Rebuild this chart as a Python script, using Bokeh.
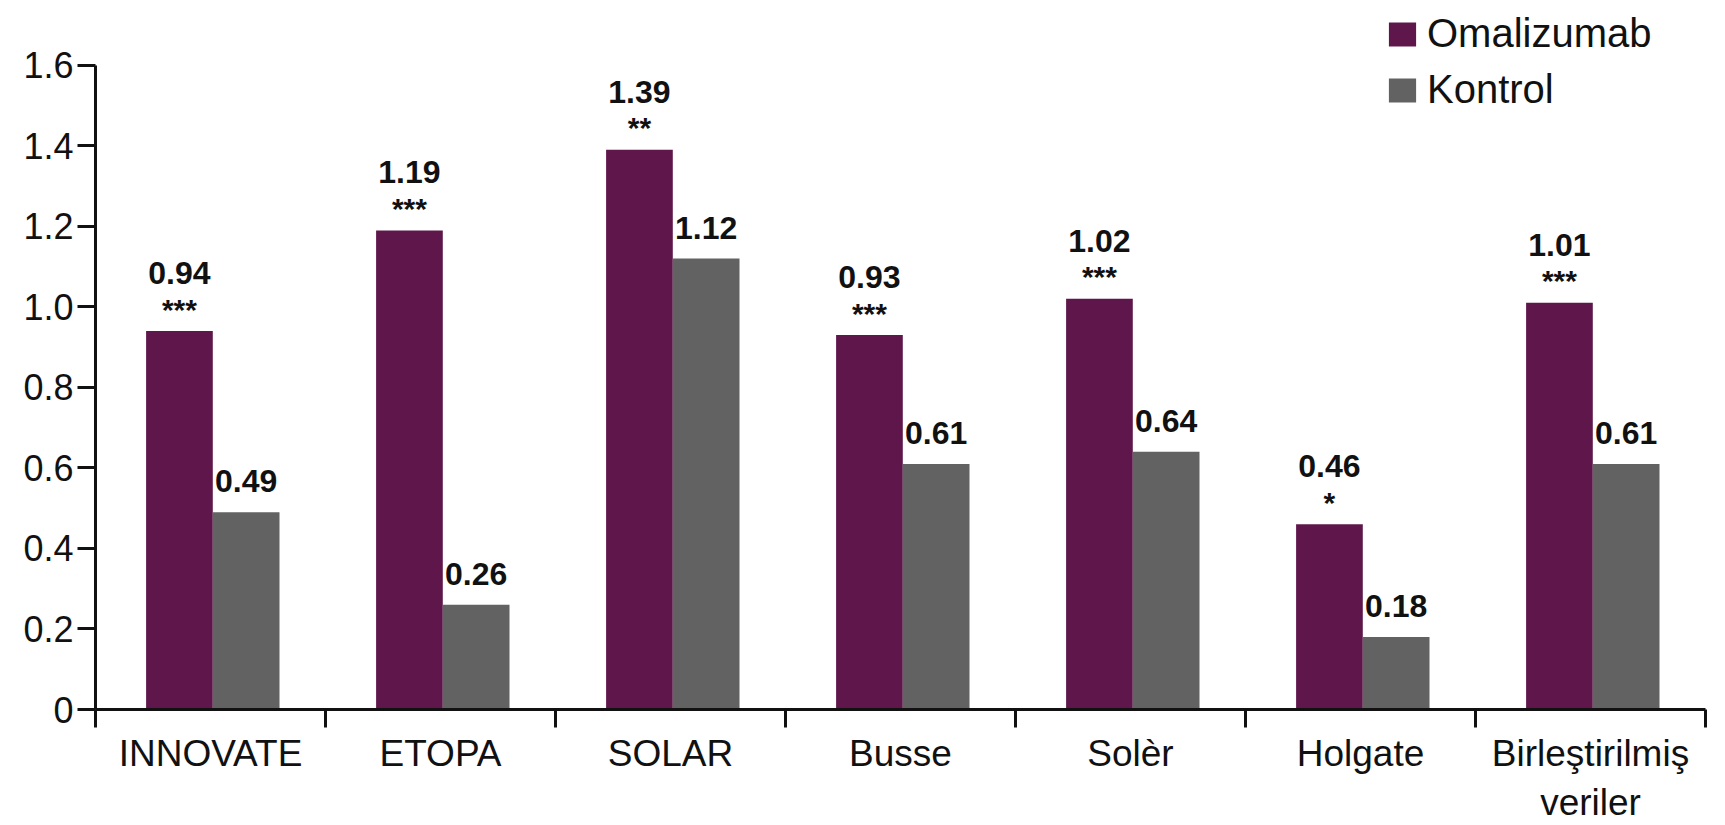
import numpy as np
from bokeh.plotting import figure
from bokeh.models import Range1d, FixedTicker, Legend, LegendItem, ColumnDataSource
from bokeh.core.properties import value
from bokeh.embed import file_html
from bokeh.resources import INLINE

# ---- data ----
categories = ["INNOVATE", "ETOPA", "SOLAR", "Busse", "Solèr", "Holgate", "Birleştirilmiş\nveriler"]
omalizumab = [0.94, 1.19, 1.39, 0.93, 1.02, 0.46, 1.01]
kontrol = [0.49, 0.26, 1.12, 0.61, 0.64, 0.18, 0.61]
significance = ["***", "***", "**", "***", "***", "*", "***"]
y_ticks = [0, 0.2, 0.4, 0.6, 0.8, 1.0, 1.2, 1.4, 1.6]
y_tick_labels = ["0", "0.2", "0.4", "0.6", "0.8", "1.0", "1.2", "1.4", "1.6"]
series_names = ["Omalizumab", "Kontrol"]

PURPLE = "#5f174b"
GREY = "#626262"
FONT = "Liberation Sans"

idx = np.arange(len(categories))
bar_w = 0.29
x_om = idx + 0.365
x_ko = idx + 0.655

src_om = ColumnDataSource(dict(x=x_om, top=omalizumab,
                               lab=[f"{v:.2f}" for v in omalizumab],
                               stars=significance))
src_ko = ColumnDataSource(dict(x=x_ko, top=kontrol,
                               lab=[f"{v:.2f}" for v in kontrol]))

p = figure(width=1725, height=825, output_backend="svg", toolbar_location=None,
           x_range=Range1d(0, len(categories)), y_range=Range1d(0, 1.761),
           min_border_left=95, min_border_right=20, min_border_top=0,
           min_border_bottom=115)
p.outline_line_color = None
p.xgrid.visible = False
p.ygrid.visible = False
p.background_fill_color = "white"
p.border_fill_color = "white"

r1 = p.vbar(x="x", top="top", width=bar_w, source=src_om, fill_color=PURPLE, line_color=None)
r2 = p.vbar(x="x", top="top", width=bar_w, source=src_ko, fill_color=GREY, line_color=None)

# value labels
p.text(x="x", y="top", text="lab", source=src_om, text_align="center",
       text_baseline="alphabetic", y_offset=-58, text_font=value(FONT),
       text_font_style="bold", text_font_size="32px", text_color="#111111")
p.text(x="x", y="top", text="stars", source=src_om, text_align="center",
       text_baseline="alphabetic", y_offset=-22, text_font=value(FONT),
       text_font_style="bold", text_font_size="30px", text_color="#111111")
p.text(x="x", y="top", text="lab", source=src_ko, text_align="center",
       text_baseline="alphabetic", y_offset=-31, text_font=value(FONT),
       text_font_style="bold", text_font_size="32px", text_color="#111111")

# y axis
ya = p.yaxis[0]
ya.ticker = FixedTicker(ticks=y_ticks)
ya.major_label_overrides = {t: l for t, l in zip(y_ticks, y_tick_labels)}
ya.bounds = (0, 1.6)
ya.axis_line_width = 3
ya.axis_line_color = "#111111"
ya.major_tick_line_width = 3
ya.major_tick_line_color = "#111111"
ya.major_tick_out = 18
ya.major_tick_in = 0
ya.minor_tick_line_color = None
ya.major_label_standoff = 4
ya.major_label_text_font = FONT
ya.major_label_text_font_size = "36px"
ya.major_label_text_color = "#111111"

# x axis
xa = p.xaxis[0]
centers = [float(i) + 0.5 for i in idx]
xa.ticker = FixedTicker(ticks=centers, minor_ticks=[float(i) for i in range(len(categories) + 1)])
xa.major_label_overrides = {c: name for c, name in zip(centers, categories)}
xa.axis_line_width = 3
xa.axis_line_color = "#111111"
xa.major_tick_line_color = None
xa.major_tick_out = 0
xa.major_tick_in = 0
xa.minor_tick_line_width = 3
xa.minor_tick_line_color = "#111111"
xa.minor_tick_out = 18
xa.minor_tick_in = 0
xa.major_label_standoff = 5
xa.major_label_text_font = FONT
xa.major_label_text_font_size = "37px"
xa.major_label_text_color = "#111111"

legend = Legend(items=[LegendItem(label=series_names[0], renderers=[r1]),
                       LegendItem(label=series_names[1], renderers=[r2])],
                location=(1290, 597), glyph_width=34, glyph_height=30,
                label_text_font=FONT, label_text_font_size="40px",
                label_text_color="#111111", label_standoff=8, label_height=44,
                spacing=11, padding=0, margin=0, border_line_color=None,
                background_fill_alpha=0)
p.add_layout(legend)

open("out.html", "w").write(file_html(p, INLINE))
